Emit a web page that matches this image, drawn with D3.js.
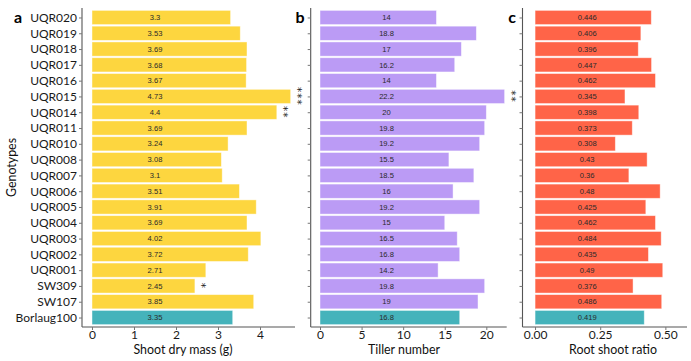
<!DOCTYPE html>
<html>
<head>
<meta charset="utf-8">
<script src="https://cdn.jsdelivr.net/npm/d3@7"></script>
<style>
  html, body { margin: 0; padding: 0; background: #fff; }
  svg { display: block; }
</style>
</head>
<body>
<svg id="chart" width="691" height="361"></svg>
<script>
const genotypes = ["UQR020","UQR019","UQR018","UQR017","UQR016","UQR015","UQR014","UQR011","UQR010","UQR008","UQR007","UQR006","UQR005","UQR004","UQR003","UQR002","UQR001","SW309","SW107","Borlaug100"];
const shootDryMass = [3.3,3.53,3.69,3.68,3.67,4.73,4.4,3.69,3.24,3.08,3.1,3.51,3.91,3.69,4.02,3.72,2.71,2.45,3.85,3.35];
const tillerNumber = [14,18.8,17,16.2,14,22.2,20,19.8,19.2,15.5,18.5,16,19.2,15,16.5,16.8,14.2,19.8,19,16.8];
const rootShootRatio = [0.446,0.406,0.396,0.447,0.462,0.345,0.398,0.373,0.308,0.43,0.36,0.48,0.425,0.462,0.484,0.435,0.49,0.376,0.486,0.419];
const shootSig = ["","","","","","***","**","","","","","","","","","","","*","",""];
const tillerSig = ["","","","","","**","","","","","","","","","","","","","",""];
const ratioSig = ["","","","","","","","","","","","","","","","","","","",""];
const shootTicks = [0,1,2,3,4];
const tillerTicks = [0,5,10,15,20];
const ratioTicks = [0,0.25,0.5];
const controlName = "Borlaug100";

const svg = d3.select("#chart");
const font = "Lato, 'Open Sans', sans-serif";
const plotTop = 8, plotBottom = 327;

const y = d3.scalePoint().domain(genotypes).range([plotTop, plotBottom]).padding(0.6);
const barH = y.step() * 0.9;

const panels = [
  {letter:"a", values:shootDryMass, sig:shootSig, ticks:shootTicks, fmt:d3.format("d"),
   domain:[-0.238, 4.833], range:[82, 295], color:"#FDD63F", labelAt:1.5, title:"Shoot dry mass (g)",
   letterX:18, showLabels:true, titleX:183},
  {letter:"b", values:tillerNumber, sig:tillerSig, ticks:tillerTicks, fmt:d3.format("d"),
   domain:[-1.12, 22.45], range:[310.7, 506.7], color:"#BB9BF5", labelAt:8, title:"Tiller number",
   letterX:300, showLabels:false, titleX:404},
  {letter:"c", values:rootShootRatio, sig:ratioSig, ticks:ratioTicks, fmt:d3.format(".2f"),
   domain:[-0.0482, 0.583], range:[522.5, 687], color:"#FF6448", labelAt:0.2, title:"Root shoot ratio",
   letterX:512, showLabels:false, titleX:613}
];
const controlColor = "#45B3BB";

panels.forEach(p => {
  const x = d3.scaleLinear().domain(p.domain).range(p.range);
  const g = svg.append("g");
  const rows = genotypes.map((gname, i) => ({g: gname, v: p.values[i], s: p.sig[i]}));

  g.selectAll("rect.bar").data(rows).join("rect")
    .attr("class","bar")
    .attr("x", x(0))
    .attr("y", d => y(d.g) - barH/2)
    .attr("width", d => x(d.v) - x(0))
    .attr("height", barH)
    .attr("fill", d => d.g === controlName ? controlColor : p.color)
    .attr("stroke", "#ffffff").attr("stroke-opacity", 0.55).attr("stroke-width", 0.8);

  g.selectAll("text.val").data(rows).join("text")
    .attr("class","val")
    .attr("x", x(p.labelAt))
    .attr("y", d => y(d.g))
    .attr("dy", "0.35em")
    .attr("text-anchor","middle")
    .attr("font-family","'Liberation Sans', Arial, sans-serif")
    .attr("font-size", 7.6)
    .attr("fill","#2a2a2a")
    .text(d => String(d.v));

  g.selectAll("text.sig").data(rows.filter(d => d.s)).join("text")
    .attr("class","sig")
    .attr("transform", d => `translate(${x(d.v) + 6.5},${y(d.g)}) rotate(90)`)
    .attr("text-anchor","middle")
    .attr("dy","0.32em")
    .attr("font-family","'DejaVu Sans', sans-serif")
    .attr("font-size", 10.5)
    .attr("letter-spacing", 1)
    .attr("fill","#222")
    .text(d => d.s);

  const yAxis = d3.axisLeft(y).tickSize(3).tickPadding(2);
  const yg = g.append("g").attr("transform", `translate(${p.range[0]},0)`).call(yAxis);
  yg.select(".domain").attr("d", `M0,${plotTop}V${plotBottom}`).attr("stroke","#555").attr("stroke-width",1.1);
  yg.selectAll(".tick line").attr("stroke","#777");
  yg.selectAll(".tick text").attr("font-family", font).attr("font-size", 12).attr("fill","#1a1a1a")
    .style("display", p.showLabels ? null : "none");

  const xAxis = d3.axisBottom(x).tickValues(p.ticks).tickFormat(p.fmt).tickSize(3).tickPadding(0.5);
  const xg = g.append("g").attr("transform", `translate(0,${plotBottom})`).call(xAxis);
  xg.select(".domain").attr("d", `M${p.range[0]},0H${p.range[1]}`).attr("stroke","#555").attr("stroke-width",1.1);
  xg.selectAll(".tick line").attr("stroke","#777");
  xg.selectAll(".tick text").attr("font-family", font).attr("font-size", 12).attr("fill","#1a1a1a");

  g.append("text").attr("x", p.titleX).attr("y", 354)
    .attr("text-anchor","middle").attr("font-family", font).attr("font-size", 12.4).attr("fill","#111")
    .text(p.title);

  g.append("text").attr("x", p.letterX).attr("y", 23)
    .attr("text-anchor","middle").attr("font-family", font).attr("font-weight","bold")
    .attr("font-size", 16).attr("fill","#000").text(p.letter);
});

svg.append("text")
  .attr("transform", `translate(16,${(plotTop+plotBottom)/2}) rotate(-90)`)
  .attr("text-anchor","middle").attr("font-family", font).attr("font-size", 12.4).attr("fill","#111")
  .text("Genotypes");
</script>
</body>
</html>
